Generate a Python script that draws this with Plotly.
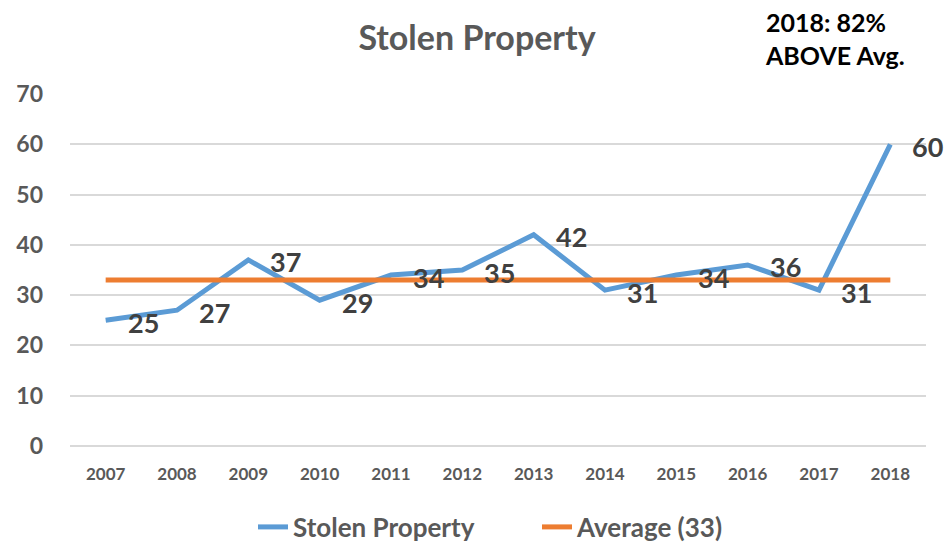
import plotly.graph_objects as go

years = ["2007", "2008", "2009", "2010", "2011", "2012", "2013", "2014", "2015", "2016", "2017", "2018"]
stolen = [25, 27, 37, 29, 34, 35, 42, 31, 34, 36, 31, 60]
average = [33] * len(years)
avg_label = "Average (33)"
series_label = "Stolen Property"
title_text = "Stolen Property"
note_text = "2018: 82%<br>ABOVE Avg."
y_ticks = [0, 10, 20, 30, 40, 50, 60, 70]

FONT = "Lato, 'Open Sans', sans-serif"
GRAY = "#595959"
DARK = "#404040"

W, H = 948, 545
L, R, T, B = 70, 22, 94, 99
PW = W - L - R
PH = H - T - B

fig = go.Figure()
fig.add_trace(go.Scatter(
    x=years, y=stolen, mode="lines", name=series_label,
    line=dict(color="#5B9BD5", width=5),
))
fig.add_trace(go.Scatter(
    x=years, y=average, mode="lines", name=avg_label,
    line=dict(color="#ED7D31", width=5),
))

for i, v in enumerate(stolen):
    fig.add_annotation(
        x=i, y=v, xref="x", yref="y", text=str(v),
        showarrow=False, xanchor="left", yanchor="middle",
        xshift=20, yshift=-2,
        font=dict(family=FONT, size=27, color=DARK, weight="bold"),
    )

fig.add_annotation(
    xref="paper", yref="paper", x=(763 - L) / PW, y=(PH + T - 5) / PH,
    xanchor="left", yanchor="top", align="left", showarrow=False,
    text=note_text,
    font=dict(family=FONT, size=25, color="#000000", weight="bold"),
)

fig.update_layout(
    width=W, height=H,
    margin=dict(l=L, r=R, t=T, b=B, autoexpand=False),
    paper_bgcolor="white", plot_bgcolor="white",
    title=dict(
        text=title_text, x=477 / W, xref="container", xanchor="center",
        y=1 - 38 / H, yanchor="middle",
        font=dict(family=FONT, size=34, color=GRAY, weight="bold"),
    ),
    legend=dict(
        orientation="h", x=(253 - L) / PW, xanchor="left",
        y=-(527 - (T + PH)) / PH, yanchor="middle",
        entrywidth=239, entrywidthmode="pixels",
        font=dict(family=FONT, size=26, color=GRAY, weight="bold"),
    ),
    font=dict(family=FONT, color=GRAY),
)

fig.update_xaxes(
    type="category", range=[-0.5, 11.5], showgrid=False, zeroline=False,
    showline=False, ticks="",
    tickfont=dict(family=FONT, size=17, color=GRAY, weight="bold"),
    ticklabelstandoff=16,
)
fig.update_yaxes(
    range=[0, 70], tickvals=y_ticks, showgrid=True, gridcolor="#D9D9D9", gridwidth=1.5,
    zeroline=True, zerolinecolor="#D9D9D9", zerolinewidth=1.5, showline=False,
    tickfont=dict(family=FONT, size=23, color=GRAY, weight="bold"),
    ticklabelstandoff=26,
)

fig.write_html(
    "out.html",
    config={"displayModeBar": False},
    post_script="document.body.style.margin='0';document.body.style.overflow='hidden';",
)
